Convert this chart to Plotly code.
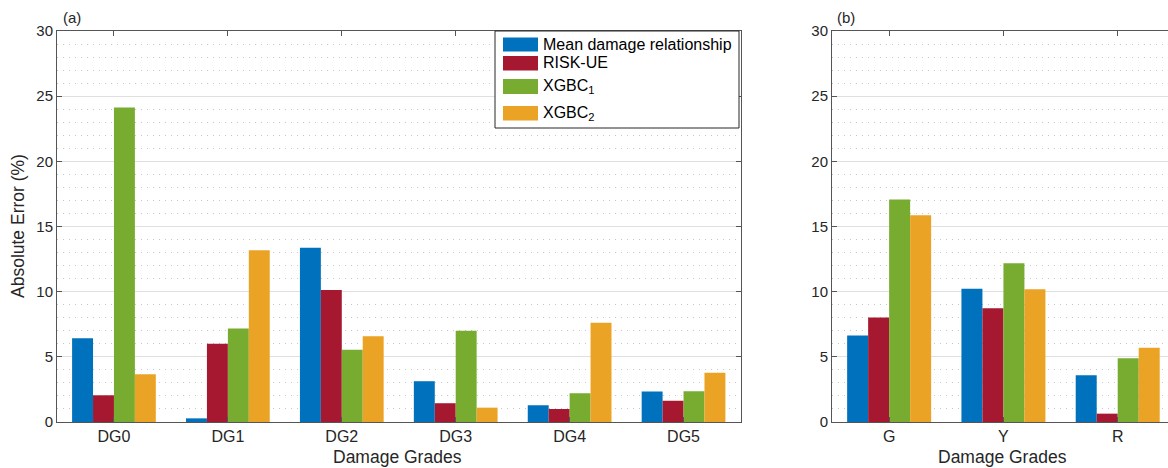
import plotly.graph_objects as go

# ---------------- data ----------------
grades_a = ["DG0", "DG1", "DG2", "DG3", "DG4", "DG5"]
grades_b = ["G", "Y", "R"]
series_names = ["Mean damage relationship", "RISK-UE", "XGBC<sub>1</sub>", "XGBC<sub>2</sub>"]
mean_a = [6.42, 0.28, 13.36, 3.13, 1.28, 2.34]
risk_a = [2.05, 6.00, 10.13, 1.44, 1.00, 1.64]
xgbc1_a = [24.13, 7.18, 5.54, 7.00, 2.20, 2.36]
xgbc2_a = [3.67, 13.18, 6.57, 1.10, 7.62, 3.77]
mean_b = [6.64, 10.23, 3.58]
risk_b = [8.02, 8.72, 0.64]
xgbc1_b = [17.08, 12.18, 4.90]
xgbc2_b = [15.87, 10.18, 5.69]
colors = ["#0072BD", "#A51830", "#77AC30", "#EBA325"]

W, H = 1168, 468
def px(x):
    return x / W
def py(y):
    return 1 - y / H

FONT = "Liberation Sans, Arial, Helvetica, sans-serif"
TXT = "#262626"
AX = "#555555"

fig = go.Figure()
for vals, name, c in zip([mean_a, risk_a, xgbc1_a, xgbc2_a], series_names, colors):
    fig.add_trace(go.Bar(x=grades_a, y=vals, name=name, marker=dict(color=c, line=dict(width=0)),
                         xaxis="x", yaxis="y", showlegend=False))
for vals, name, c in zip([mean_b, risk_b, xgbc1_b, xgbc2_b], series_names, colors):
    fig.add_trace(go.Bar(x=grades_b, y=vals, name=name, marker=dict(color=c, line=dict(width=0)),
                         xaxis="x2", yaxis="y2", showlegend=False))

ydom = [py(422), py(31)]
yax_common = dict(range=[0, 30], dtick=5, tick0=0, showgrid=True, gridcolor="#e0e0e0", gridwidth=1,
                  zeroline=False, showline=True, linecolor=AX, linewidth=1, ticks="inside", ticklen=5,
                  tickcolor=AX, tickfont=dict(family=FONT, size=15, color=TXT), automargin=False,
                  minor=dict(dtick=1, tick0=0, showgrid=True, gridcolor="#c8c8c8", griddash="1px,5px",
                             gridwidth=1, ticks=""),
                  domain=ydom)
xax_common = dict(type="category", showgrid=False, zeroline=False, showline=True, linecolor=AX,
                  linewidth=1, ticks="inside", ticklen=5, tickcolor=AX, mirror="ticks", automargin=False,
                  tickfont=dict(family=FONT, size=16, color=TXT))

fig.update_layout(
    width=W, height=H, margin=dict(l=0, r=0, t=0, b=0, pad=0, autoexpand=False),
    paper_bgcolor="white", plot_bgcolor="white",
    barmode="group", bargap=0.265, bargroupgap=0,
    xaxis=dict(domain=[px(57), px(740.5)], range=[-0.5, 5.5], anchor="y", **xax_common),
    xaxis2=dict(domain=[px(832), 1.0], range=[-0.5, 2.44], anchor="y2", **xax_common),
    yaxis=dict(anchor="x", mirror="ticks", **yax_common),
    yaxis2=dict(anchor="x2", mirror=False, **yax_common),
    font=dict(family=FONT, color=TXT),
    showlegend=False,
)

ann = []
# axis titles
ann.append(dict(x=px(18), y=py(226), xref="paper", yref="paper", text="Absolute Error (%)",
                textangle=-90, showarrow=False, font=dict(family=FONT, size=17.5, color=TXT),
                xanchor="center", yanchor="middle"))
ann.append(dict(x=px(398), y=py(457), xref="paper", yref="paper", text="Damage Grades",
                showarrow=False, font=dict(family=FONT, size=17.5, color=TXT),
                xanchor="center", yanchor="middle"))
ann.append(dict(x=px(1002), y=py(457), xref="paper", yref="paper", text="Damage Grades",
                showarrow=False, font=dict(family=FONT, size=17.5, color=TXT),
                xanchor="center", yanchor="middle"))
# panel labels
ann.append(dict(x=px(61), y=py(18), xref="paper", yref="paper", text="(a)", showarrow=False,
                font=dict(family=FONT, size=15, color=TXT), xanchor="left", yanchor="middle"))
ann.append(dict(x=px(835), y=py(18), xref="paper", yref="paper", text="(b)", showarrow=False,
                font=dict(family=FONT, size=15, color=TXT), xanchor="left", yanchor="middle"))

# legend (manual)
shapes = [dict(type="rect", xref="paper", yref="paper", x0=px(495), x1=px(739), y0=py(128), y1=py(31),
               line=dict(color="#262626", width=1), fillcolor="white", layer="above")]
rows = [(37.5, 51.5), (56, 70.5), (79, 94), (106, 120.5)]
text_y = [44.5, 63, 86, 113]
for (r0, r1), ty, c, name in zip(rows, text_y, colors, series_names):
    shapes.append(dict(type="rect", xref="paper", yref="paper", x0=px(503), x1=px(538),
                       y0=py(r1), y1=py(r0), line=dict(width=0), fillcolor=c, layer="above"))
    ann.append(dict(x=px(541), y=py(ty), xref="paper", yref="paper", text=name, showarrow=False,
                    font=dict(family=FONT, size=16, color="#000000"), xanchor="left", yanchor="middle"))

fig.update_layout(annotations=ann, shapes=shapes)
fig.write_html(
    "out.html",
    config={"displayModeBar": False},
    post_script="document.body.style.margin='0';document.body.style.overflow='hidden';",
)
